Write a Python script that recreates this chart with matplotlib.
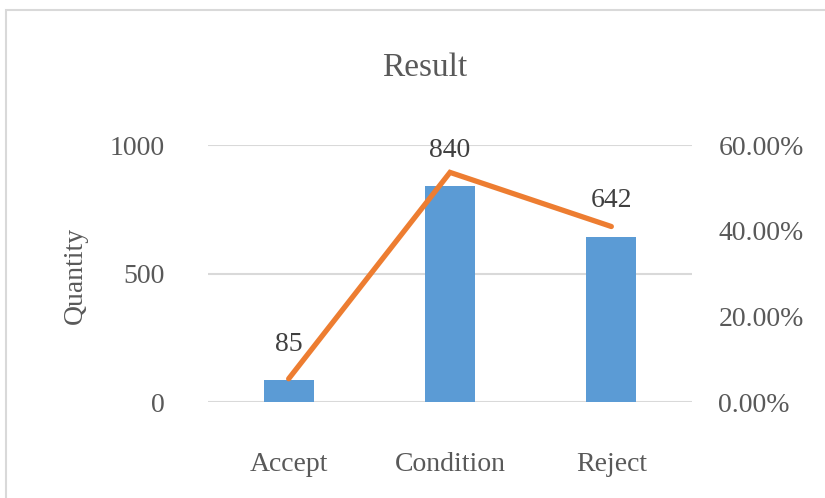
import matplotlib
matplotlib.use('Agg')
import matplotlib.pyplot as plt
from matplotlib.patches import Rectangle

categories = ['Accept', 'Condition', 'Reject']
quantities = [85, 840, 642]
total = sum(quantities)
shares = [q / total for q in quantities]

plt.rcParams['font.family'] = ['Liberation Serif', 'DejaVu Serif']

fig = plt.figure(figsize=(8.25, 4.98), dpi=100)
# light chart-area border, running off the right and bottom edges
fig.patches.append(Rectangle((6 / 825, -0.1), 1.2, 0.98 + 0.1, transform=fig.transFigure,
                             fill=False, edgecolor='#d9d9d9', linewidth=1.5))

ax = fig.add_axes([208 / 825, 1 - 402 / 498, 484 / 825, 257 / 498])
ax2 = ax.twinx()
ax.set_zorder(ax2.get_zorder() - 1)
ax2.patch.set_visible(False)

x = range(len(categories))
ax.bar(x, quantities, width=0.31, color='#5b9bd5', zorder=2)
ax.set_ylim(0, 1000)
ax.set_yticks([0, 500, 1000])
ax.set_xlim(-0.5, 2.5)
ax.set_xticks(list(x))
ax.set_xticklabels(categories)
ax.grid(axis='y', color='#d9d9d9', linewidth=1.5, zorder=0)
ax.set_axisbelow(True)

for i, q in enumerate(quantities):
    ax.annotate(str(q), (i, q), xytext=(0, 26), textcoords='offset points',
                ha='center', va='center', fontsize=20, color='#404040')

ax2.plot(list(x), shares, color='#ed7d31', linewidth=3.8, solid_capstyle='round',
         solid_joinstyle='miter')
ax2.set_ylim(0, 0.6)
ax2.set_yticks([0, 0.2, 0.4, 0.6])
ax2.set_yticklabels(['%.2f%%' % (v * 100) for v in [0, 0.2, 0.4, 0.6]])

for a in (ax, ax2):
    for s in a.spines.values():
        s.set_visible(False)
    a.tick_params(length=0, labelsize=20, labelcolor='#595959')
ax.tick_params(axis='y', pad=31)
ax.tick_params(axis='x', pad=36)
ax2.tick_params(axis='y', pad=19)

fig.text(75 / 825, 1 - 275 / 498, 'Quantity', rotation=90, ha='center', va='center',
         fontsize=20, color='#595959')
fig.text(425 / 825, 1 - 68 / 498, 'Result', ha='center', va='center',
         fontsize=24, color='#595959')

fig.savefig('out.png', dpi=100)
